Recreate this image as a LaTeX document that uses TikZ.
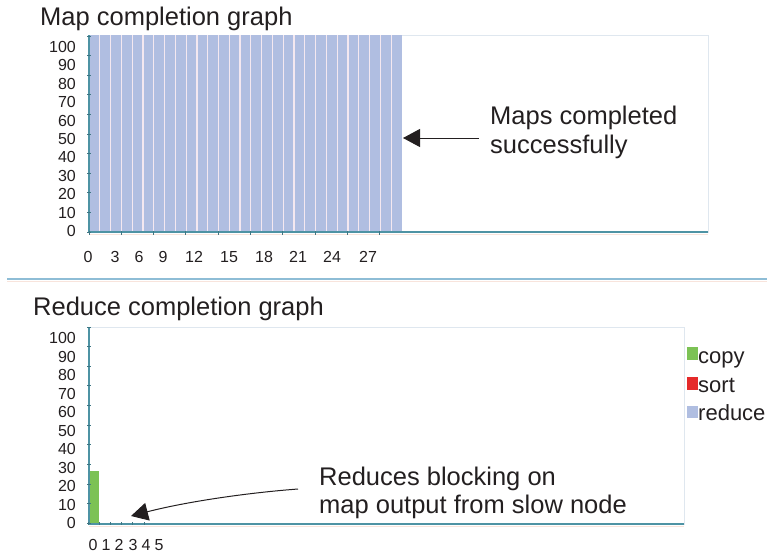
\documentclass[tikz,border=0pt]{standalone}
\usepackage{fontspec}
\setmainfont{Liberation Sans}
\usetikzlibrary{arrows.meta}

\definecolor{ink}{HTML}{231F20}
\definecolor{barblue}{HTML}{B0BEE1}
\definecolor{barsep}{HTML}{F4E8F0}
\definecolor{axisteal}{HTML}{4E93A4}
\definecolor{framegray}{HTML}{DFE7EF}
\definecolor{glowpink}{HTML}{F8E4DC}
\definecolor{rulerblue}{HTML}{8EBDD6}
\definecolor{copygreen}{HTML}{7CC255}
\definecolor{sortred}{HTML}{E52A2A}

\begin{document}
\begin{tikzpicture}[x=1pt,y=-1pt,
  charttitle/.style={anchor=base west, inner sep=0pt, text=ink,
    font=\fontsize{25.5}{29}\selectfont},
  note/.style={anchor=north west, inner sep=0pt, align=left, text=ink},
  ylab/.style={anchor=east, inner sep=0pt, text=ink,
    font=\fontsize{16}{18}\selectfont},
  xlab/.style={anchor=base, inner sep=0pt, text=ink,
    font=\fontsize{16}{18}\selectfont},
  legtext/.style={anchor=base west, inner sep=0pt, text=ink,
    font=\fontsize{22}{24}\selectfont},
  plotframe/.style={draw=framegray, line width=0.8pt},
  axisline/.style={draw=axisteal, line width=1.3pt},
  tickmark/.style={draw=axisteal!80!black, line width=1pt},
  pointer/.style={draw=ink, line width=1pt,
    -{Triangle[length=17pt,width=18pt]}},
]
\useasboundingbox (0,0) rectangle (767,555);

% ---------------- map completion graph ----------------
\node[charttitle] (mapTitle) at (40,25) {Map completion graph};

\draw[plotframe] (89,35) rectangle (708,232);
\fill[barblue] (89,35) rectangle (402,232);
\foreach \i in {1,...,28}
  \draw[barsep, line width=1.2pt] ({89+10.79*\i},35) -- ({89+10.79*\i},232);
\draw[glowpink, line width=1pt] (89,234.5) -- (708,234.5);
\draw[axisline] (89,232) -- (708,232);
\draw[axisline] (89,35) -- (89,232);
\foreach \k in {0,...,10}
  \draw[tickmark] (87,{232-19.6*\k}) -- (91,{232-19.6*\k});
\foreach \k in {0,...,9}
  \draw[tickmark] ({89+32.3*\k},231) -- ({89+32.3*\k},235);

\foreach \v [count=\k from 0] in {0,10,...,100}
  \node[ylab] (mapY\v) at (76,{231-18.4*\k}) {\v};
\foreach \v/\xx in {0/88,3/115,6/139,9/163,12/194,15/229,18/264,21/298,24/332,27/368}
  \node[xlab] (mapX\v) at (\xx,262) {\v};

\node[note, font=\fontsize{25.5}{29}\selectfont] (mapsNote) at (490,105.5)
  {Maps completed\\successfully};
\coordinate (mapsTail) at (479,138);
\coordinate (mapsTip) at (403,138);
\draw[pointer] (mapsTail) -- (mapsTip);

% ---------------- divider ----------------
\draw[glowpink, line width=1.2pt] (7,281.5) -- (767,281.5);
\draw[rulerblue, line width=1.5pt] (7,279) -- (767,279);

% ---------------- reduce completion graph ----------------
\node[charttitle] (redTitle) at (33,315) {Reduce completion graph};

\draw[plotframe] (89,327) rectangle (684,524);
\fill[copygreen] (89,471) rectangle (99,523);
\draw[glowpink, line width=1pt] (89,526.5) -- (684,526.5);
\draw[axisline] (89,524) -- (684,524);
\draw[axisline] (89,327) -- (89,524);
\foreach \k in {0,...,10}
  \draw[tickmark] (87,{523.5-19.65*\k}) -- (91,{523.5-19.65*\k});
\foreach \k in {0,...,5}
  \draw[tickmark] ({88+11.2*\k},522) -- ({88+11.2*\k},525);

\foreach \v [count=\k from 0] in {0,10,...,100}
  \node[ylab] (redY\v) at (76,{523-18.5*\k}) {\v};
\foreach \v/\xx in {0/93,1/106,2/119,3/133,4/146,5/159}
  \node[xlab] (redX\v) at (\xx,550) {\v};

% legend
\fill[copygreen] (687,347) rectangle (698,360);
\fill[sortred] (687,377) rectangle (698,390);
\fill[barblue] (687,406) rectangle (698,418);
\node[legtext] (legCopy) at (698,363) {copy};
\node[legtext] (legSort) at (698,392) {sort};
\node[legtext] (legReduce) at (698,420) {reduce};

\node[note, font=\fontsize{25.5}{28}\selectfont] (slowNote) at (319,466.5)
  {Reduces blocking on\\map output from slow node};
\coordinate (slowTail) at (298,489);
\coordinate (slowTip) at (131,516);
\draw[pointer] (slowTail) .. controls (245,493) and (185,502) .. (slowTip);
\end{tikzpicture}
\end{document}
